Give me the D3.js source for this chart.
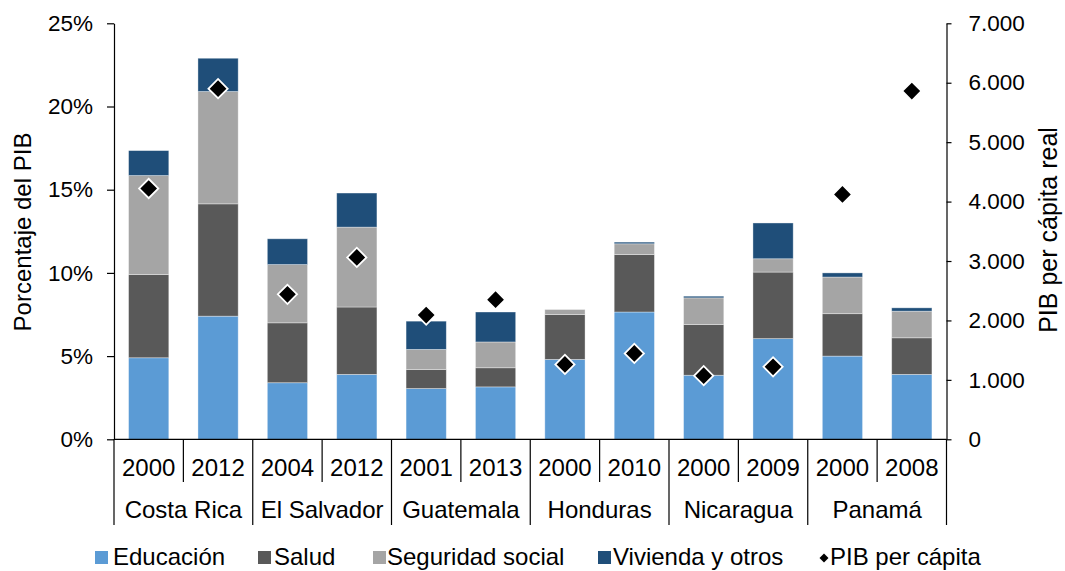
<!DOCTYPE html>
<html>
<head>
    <meta charset="utf-8">
    <title>Gasto social por función y PIB per cápita</title>
    <script src="https://cdn.jsdelivr.net/npm/d3@7"></script>
    <style>
    body { margin: 0; background: #fff; }
    svg { font-family: "Liberation Sans", Arial, sans-serif; }
    .axis path, .axis line { stroke: #000; stroke-width: 1.2px; }
    .axis text { font-size: 22.5px; fill: #000; }
    .sep { stroke: #000; stroke-width: 1.2px; }
    .lbl { font-size: 24px; fill: #000; }
    </style>
</head>
<body>
<script>

// categories
var countries = ["Costa Rica", "El Salvador", "Guatemala", "Honduras", "Nicaragua", "Panamá"];
var years = [["2000", "2012"], ["2004", "2012"], ["2001", "2013"], ["2000", "2010"], ["2000", "2009"], ["2000", "2008"]];

// series, % del PIB
var educacion = [4.9, 7.4, 3.4, 3.9, 3.05, 3.15, 4.8, 7.65, 3.85, 6.05, 5.0, 3.9];
var salud     = [5.0, 6.75, 3.6, 4.05, 1.15, 1.15, 2.7, 3.45, 3.05, 4.0, 2.55, 2.2];
var seguridad = [5.95, 6.75, 3.5, 4.8, 1.2, 1.55, 0.3, 0.65, 1.6, 0.8, 2.2, 1.6];
var vivienda  = [1.5, 2.0, 1.55, 2.05, 1.7, 1.8, 0, 0.1, 0.1, 2.15, 0.25, 0.2];
// PIB per capita real
var pib = [4220, 5900, 2440, 3060, 2090, 2350, 1260, 1445, 1070, 1220, 4120, 5860];

var leftTicks = [0, 5, 10, 15, 20, 25];
var rightTicks = [0, 1000, 2000, 3000, 4000, 5000, 6000, 7000];

var keys = ["Educación", "Salud", "Seguridad social", "Vivienda y otros"];
var colors = ["#5b9bd5", "#595959", "#a5a5a5", "#1f4e79"];

var width = 1065, height = 571;
var x0 = 114, x1 = 946.5, yTop = 23.3, yBot = 439.3;

// one row per bar
var rows = [];
countries.forEach(function(c, i) {
    years[i].forEach(function(yr, j) {
        var k = rows.length;
        rows.push({
            id: c + "-" + yr, country: c, year: yr, first: j === 0,
            "Educación": educacion[k], "Salud": salud[k],
            "Seguridad social": seguridad[k], "Vivienda y otros": vivienda[k],
            pib: pib[k]
        });
    });
});

var x = d3.scaleBand()
    .domain(rows.map(function(d) { return d.id; }))
    .range([x0, x1])
    .paddingInner(0.42)
    .paddingOuter(0.21);

var y = d3.scaleLinear().domain([0, 25]).range([yBot, yTop]);
var y2 = d3.scaleLinear().domain([0, 7000]).range([yBot, yTop]);

var color = d3.scaleOrdinal().domain(keys).range(colors);

var stacked = d3.stack().keys(keys)(rows);

var svg = d3.select("body").append("svg")
    .attr("width", width)
    .attr("height", height);

// bars
svg.append("g").selectAll("g")
    .data(stacked)
    .join("g")
    .attr("fill", function(d) { return color(d.key); })
    .selectAll("rect")
    .data(function(d) { return d; })
    .join("rect")
    .attr("x", function(d) { return x(d.data.id); })
    .attr("y", function(d) { return y(d[1]); })
    .attr("width", x.bandwidth())
    .attr("height", function(d) { return Math.max(0, y(d[0]) - y(d[1])); })
    .attr("stroke", "#fff")
    .attr("stroke-opacity", 0.45)
    .attr("stroke-width", 0.8);

// left axis
svg.append("g")
    .attr("class", "axis")
    .attr("transform", "translate(" + x0 + ",0)")
    .call(d3.axisLeft(y).tickValues(leftTicks).tickSize(7).tickSizeOuter(0).tickPadding(14)
        .tickFormat(function(d) { return d + "%"; }));

// right axis
var es = d3.formatLocale({ decimal: ",", thousands: ".", grouping: [3], currency: ["", ""] });
svg.append("g")
    .attr("class", "axis")
    .attr("transform", "translate(" + x1 + ",0)")
    .call(d3.axisRight(y2).tickValues(rightTicks).tickSize(5).tickSizeOuter(0).tickPadding(17)
        .tickFormat(es.format(",")));

// bottom line
svg.append("line").attr("class", "sep")
    .attr("x1", x0).attr("x2", x1).attr("y1", yBot).attr("y2", yBot);

// category separators
var step = x.step();
svg.append("g").selectAll("line")
    .data(rows)
    .join("line")
    .attr("class", "sep")
    .attr("x1", function(d) { return x(d.id) - step * x.paddingInner() / 2; })
    .attr("x2", function(d) { return x(d.id) - step * x.paddingInner() / 2; })
    .attr("y1", yBot)
    .attr("y2", function(d) { return d.first ? 525 : 482; });
svg.append("line").attr("class", "sep")
    .attr("x1", x1).attr("x2", x1).attr("y1", yBot).attr("y2", 525);

// year labels
svg.append("g").selectAll("text")
    .data(rows)
    .join("text")
    .attr("class", "lbl")
    .attr("text-anchor", "middle")
    .attr("x", function(d) { return x(d.id) + x.bandwidth() / 2; })
    .attr("y", 476)
    .text(function(d) { return d.year; });

// country labels
svg.append("g").selectAll("text")
    .data(rows.filter(function(d) { return d.first; }))
    .join("text")
    .attr("class", "lbl")
    .attr("text-anchor", "middle")
    .attr("x", function(d) { return x(d.id) + x.bandwidth() + step * x.paddingInner() / 2; })
    .attr("y", 518)
    .text(function(d) { return d.country; });

// PIB markers
var diamond = d3.symbol().type(d3.symbolSquare).size(185);
svg.append("g").selectAll("path")
    .data(rows)
    .join("path")
    .attr("d", diamond)
    .attr("transform", function(d) {
        return "translate(" + (x(d.id) + x.bandwidth() / 2) + "," + y2(d.pib) + ") rotate(45)";
    })
    .attr("fill", "#000")
    .attr("stroke", "#fff")
    .attr("stroke-width", 1.8);

// axis titles
svg.append("text")
    .attr("class", "lbl")
    .attr("text-anchor", "middle")
    .attr("transform", "translate(31,232) rotate(-90)")
    .text("Porcentaje del PIB");

svg.append("text")
    .attr("class", "lbl")
    .attr("text-anchor", "middle")
    .style("font-size", "25px")
    .attr("transform", "translate(1057,230) rotate(-90)")
    .text("PIB per cápita real");

// legend
var legendItems = [
    { name: "Educación", sx: 95, tx: 113 },
    { name: "Salud", sx: 258, tx: 274 },
    { name: "Seguridad social", sx: 373, tx: 387 },
    { name: "Vivienda y otros", sx: 598, tx: 613 },
    { name: "PIB per cápita", sx: 820, tx: 830 }
];
var legend = svg.append("g").selectAll("g")
    .data(legendItems)
    .join("g");

legend.filter(function(d) { return d.name !== "PIB per cápita"; })
    .append("rect")
    .attr("x", function(d) { return d.sx; })
    .attr("y", 551)
    .attr("width", 13)
    .attr("height", 13)
    .attr("fill", function(d) { return color(d.name); });

legend.filter(function(d) { return d.name === "PIB per cápita"; })
    .append("path")
    .attr("d", d3.symbol().type(d3.symbolSquare).size(40))
    .attr("transform", function(d) { return "translate(" + (d.sx + 4) + ",558) rotate(45)"; })
    .attr("fill", "#000");

legend.append("text")
    .attr("class", "lbl")
    .attr("x", function(d) { return d.tx; })
    .attr("y", 565)
    .text(function(d) { return d.name; });

</script>
</body>
</html>
